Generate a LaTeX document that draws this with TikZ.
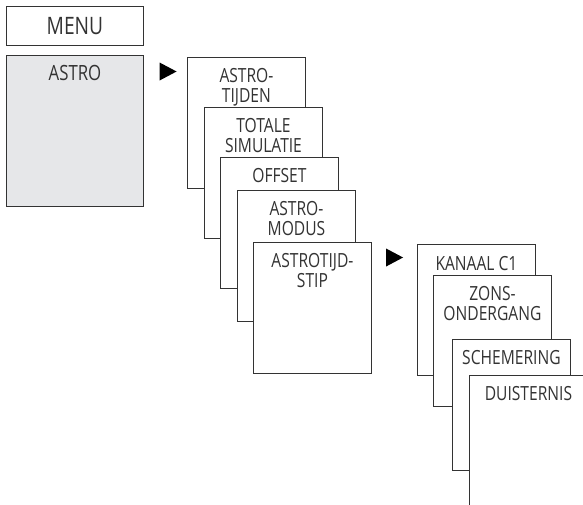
\documentclass[tikz,border=0pt]{standalone}
\usepackage{fontspec}
\setmainfont{Open Sans}[FakeStretch=0.8]
\usetikzlibrary{positioning, shapes.geometric}
\definecolor{panel}{HTML}{E6E7E9}
\definecolor{ink}{HTML}{333333}

\begin{document}
\begin{tikzpicture}[
  x=1pt, y=-1pt,
  card/.style={rectangle, draw=ink, line width=0.9pt, fill=white, anchor=north west,
               minimum width=118pt, minimum height=131pt, inner sep=0pt},
  cardtext/.style={inner sep=0pt, anchor=north, align=center, text=ink,
                   font=\fontsize{19.5}{20}\selectfont},
  pointer/.style={isosceles triangle, isosceles triangle stretches, fill=black,
                  inner sep=0pt, minimum width=18pt, minimum height=17pt}
]
  \useasboundingbox (0,0) rectangle (583,504);
  \clip (0,0) rectangle (583,504);

  \node[card, minimum width=137pt, minimum height=39pt, anchor=north west, text=ink,
        font=\fontsize{24}{24}\selectfont] (menu) at (6,6) {MENU};
  \node[card, fill=panel, minimum width=137pt, minimum height=151pt] (astro) at (6,55) {};
  \node[cardtext, font=\fontsize{21}{21}\selectfont, below=10pt of astro.north] (astrot) {ASTRO};

  \node[pointer] (go1) at (165,71.5) {};

  \node[card] (tijden) at (187,57) {};
  \node[cardtext, below=11pt of tijden.north] (tijdent) {ASTRO-\\TIJDEN};
  \node[card] (simul) at (204,107) {};
  \node[cardtext, below=11pt of simul.north] (simult) {TOTALE\\SIMULATIE};
  \node[card] (offset) at (220,157) {};
  \node[cardtext, below=11pt of offset.north] (offsett) {OFFSET};
  \node[card] (modus) at (237,190) {};
  \node[cardtext, below=11pt of modus.north] (modust) {ASTRO-\\MODUS};
  \node[card] (stip) at (253,242) {};
  \node[cardtext, below=11pt of stip.north] (stipt) {ASTROTIJD-\\STIP};

  \node[pointer] (go2) at (391.5,257.5) {};

  \node[card] (kanaal) at (417,244) {};
  \node[cardtext, below=12pt of kanaal.north] (kanaalt) {KANAAL C1};
  \node[card] (onder) at (433,275) {};
  \node[cardtext, below=11pt of onder.north] (ondert) {ZONS-\\ONDERGANG};
  \node[card] (schem) at (452,339) {};
  \node[cardtext, below=11pt of schem.north] (schemt) {SCHEMERING};
  \node[card] (duister) at (469,375) {};
  \node[cardtext, below=11pt of duister.north] (duistert) {DUISTERNIS};
\end{tikzpicture}
\end{document}
